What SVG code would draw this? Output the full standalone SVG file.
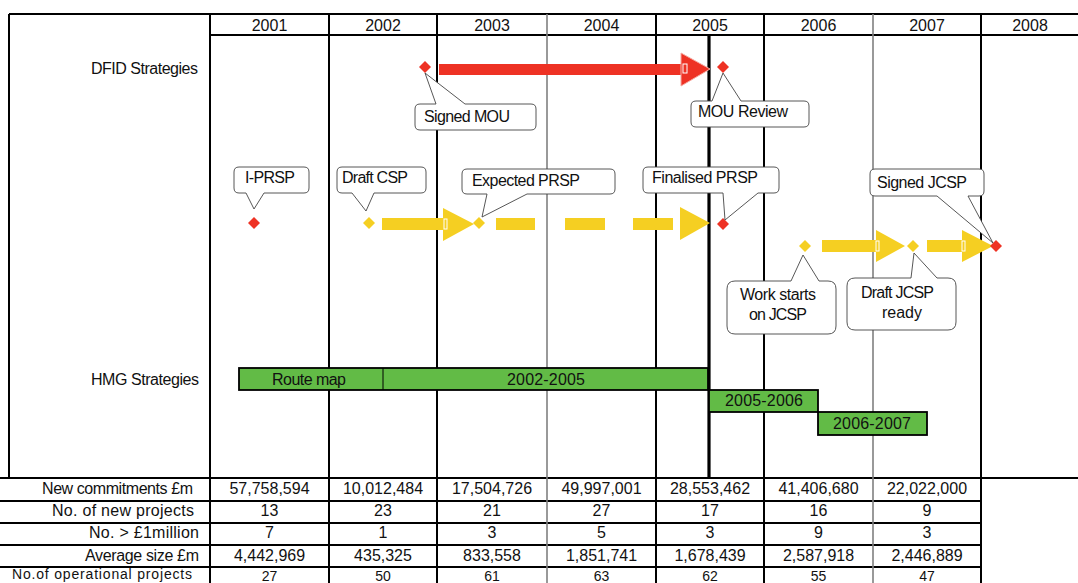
<svg xmlns="http://www.w3.org/2000/svg" width="1078" height="583" viewBox="0 0 1078 583">
<style>
text{font-family:"Liberation Sans",Arial,sans-serif;font-size:16px;fill:#111}
.c{text-anchor:middle}
.e{text-anchor:end}
.last{font-size:14px}
.bl{stroke:#000;stroke-width:2;fill:none}
.gr{stroke:#808080;stroke-width:1.6;fill:none}
.red{fill:#ee3224}
.yel{fill:#f5cf22}
.bar{fill:#62bb46;stroke:#000;stroke-width:1.8}
.co{fill:#fff;stroke:#444;stroke-width:0.9}
</style>
<rect width="1078" height="583" fill="#fff"/>
<g id="grid">
<path class="bl" d="M9,14H1078M210,35H1078M0,478H1078M0,501H981M0,523H981M0,545H981M0,567H981"/>
<path class="bl" d="M9,14V478M210,14V583M329,14V583M437,14V583M656,14V583M764,14V583M981,14V583"/>
<path class="gr" d="M547,14V583M873,14V583"/>
<path stroke="#000" stroke-width="3.2" d="M709,35V478"/>
</g>
<g id="years">
<text class="c" x="269.5" y="31">2001</text>
<text class="c" x="383" y="31">2002</text>
<text class="c" x="492" y="31">2003</text>
<text class="c" x="601.5" y="31">2004</text>
<text class="c" x="710" y="31">2005</text>
<text class="c" x="818.5" y="31">2006</text>
<text class="c" x="927" y="31">2007</text>
<text class="c" x="1030" y="31">2008</text>
</g>
<g id="rowlabels">
<text class="e" x="198" y="74" textLength="107">DFID Strategies</text>
<text class="e" x="199" y="385" textLength="108">HMG Strategies</text>
</g>
<g id="hmg-bars">
<g id="bar-2002-2005">
<rect class="bar" x="239" y="368" width="469" height="22"/>
<path stroke="#000" stroke-width="1" d="M383,368V390"/>
<text class="c" x="309" y="385" textLength="74">Route map</text>
<text class="c" x="546" y="385" textLength="78">2002-2005</text>
</g>
<g id="bar-2005-2006">
<rect class="bar" x="709" y="390" width="109" height="22"/>
<text class="c" x="764" y="406" textLength="78">2005-2006</text>
</g>
<g id="bar-2006-2007">
<rect class="bar" x="818" y="412" width="109" height="23"/>
<text class="c" x="872" y="429" textLength="78">2006-2007</text>
</g>
</g>
<g id="connectors">
<g id="mou-arrow">
<rect class="red" x="439" y="64" width="248" height="11"/>
<path class="red" d="M681,53L710,69L681,86Z" stroke="#f6a89f" stroke-width="1"/>
<rect x="683" y="64" width="4" height="9" fill="none" stroke="#fff" stroke-width="1"/>
</g>
<g id="csp-arrow">
<rect class="yel" x="382" y="218" width="66" height="12"/>
<path class="yel" d="M443,208L474,224L443,241Z"/>
<rect x="444" y="219" width="3" height="10" fill="none" stroke="#fff" stroke-width="1"/>
</g>
<g id="prsp-dashed-arrow">
<rect class="yel" x="496" y="218" width="39" height="12"/>
<rect class="yel" x="565" y="218" width="40" height="12"/>
<rect class="yel" x="633" y="218" width="40" height="12"/>
<path class="yel" d="M680,207L710,223L680,240Z"/>
</g>
<g id="jcsp-arrow-1">
<rect class="yel" x="822" y="240" width="58" height="12"/>
<path class="yel" d="M876,230L905,246L876,262Z"/>
<rect x="876" y="241" width="3" height="10" fill="none" stroke="#fff" stroke-width="1"/>
</g>
<g id="jcsp-arrow-2">
<rect class="yel" x="927" y="240" width="40" height="12"/>
<path class="yel" d="M962,230L993,246L962,262Z"/>
<rect x="962" y="241" width="3" height="10" fill="none" stroke="#fff" stroke-width="1"/>
</g>
</g>
<g id="milestones">
<path id="d-signed-mou" class="red" d="M425,61l6,6l-6,6l-6,-6Z"/>
<path id="d-mou-review" class="red" d="M723,61l6,6l-6,6l-6,-6Z"/>
<path id="d-iprsp" class="red" d="M254,217l6,6l-6,6l-6,-6Z"/>
<path id="d-draftcsp" class="yel" d="M369,217l6,6l-6,6l-6,-6Z"/>
<path id="d-expected" class="yel" d="M479,217l6,6l-6,6l-6,-6Z"/>
<path id="d-finalised" class="red" d="M723,218l6,6l-6,6l-6,-6Z"/>
<path id="d-workstarts" class="yel" d="M805,240l6,6l-6,6l-6,-6Z"/>
<path id="d-draftjcsp" class="yel" d="M913,240l6,6l-6,6l-6,-6Z"/>
<path id="d-signedjcsp" class="red" d="M996,240l6,6l-6,6l-6,-6Z"/>
</g>
<g id="callout-signed-mou">
<path class="co" d="M436,104L425,73L465,104L531,104Q536,104 536,109L536,125Q536,130 531,130L420,130Q415,130 415,125L415,109Q415,104 420,104Z"/>
<text x="424" y="122" textLength="86">Signed MOU</text>
</g>
<g id="callout-mou-review">
<path class="co" d="M712,101L723,73L741,101L804,101Q809,101 809,106L809,122Q809,127 804,127L696,127Q691,127 691,122L691,106Q691,101 696,101Z"/>
<text x="698" y="117" textLength="90">MOU Review</text>
</g>
<g id="callout-iprsp">
<path class="co" d="M264,193L254,209L246,193L239,193Q234,193 234,188L234,172Q234,167 239,167L304,167Q309,167 309,172L309,188Q309,193 304,193Z"/>
<text x="245" y="183" textLength="50">I-PRSP</text>
</g>
<g id="callout-draftcsp">
<path class="co" d="M374,193L366,211L352,193L342,193Q337,193 337,188L337,172Q337,167 342,167L421,167Q426,167 426,172L426,188Q426,193 421,193Z"/>
<text x="342" y="183" textLength="66">Draft CSP</text>
</g>
<g id="callout-expected-prsp">
<path class="co" d="M527,194L482,217L487,194L467,194Q462,194 462,189L462,174Q462,169 467,169L610,169Q615,169 615,174L615,189Q615,194 610,194Z"/>
<text x="472" y="186" textLength="108">Expected PRSP</text>
</g>
<g id="callout-finalised-prsp">
<path class="co" d="M758,193L725,220L723,193L648,193Q643,193 643,188L643,172Q643,167 648,167L774,167Q779,167 779,172L779,188Q779,193 774,193Z"/>
<text x="652" y="183" textLength="106">Finalised PRSP</text>
</g>
<g id="callout-signed-jcsp">
<path class="co" d="M968,196L993,243L937,196L875,196Q870,196 870,191L870,174Q870,169 875,169L979,169Q984,169 984,174L984,191Q984,196 979,196Z"/>
<text x="877" y="188" textLength="90">Signed JCSP</text>
</g>
<g id="callout-work-starts">
<path class="co" d="M791,281L803,255L819,281L828,281Q836,281 836,289L836,326Q836,334 828,334L735,334Q727,334 727,326L727,289Q727,281 735,281Z"/>
<text x="740" y="300" textLength="76">Work starts</text>
<text x="749" y="320" textLength="58">on JCSP</text>
</g>
<g id="callout-draft-jcsp">
<path class="co" d="M911,278L914,253L937,278L948,278Q956,278 956,286L956,322Q956,330 948,330L855,330Q847,330 847,322L847,286Q847,278 855,278Z"/>
<text x="861" y="298" textLength="73">Draft JCSP</text>
<text x="882" y="318" textLength="40">ready</text>
</g>
<g id="table">
<text class="e" x="193" y="494" textLength="151">New commitments £m</text>
<text class="e" x="194" y="516" textLength="142">No. of new projects</text>
<text class="e" x="199" y="538" textLength="110">No. &gt; £1million</text>
<text class="e" x="199" y="561" textLength="114">Average size £m</text>
<text class="e last" x="192" y="579" textLength="180">No.of operational projects</text>
<text class="c" x="269.5" y="494">57,758,594</text><text class="c" x="383" y="494">10,012,484</text><text class="c" x="492" y="494">17,504,726</text><text class="c" x="601.5" y="494">49,997,001</text><text class="c" x="710" y="494">28,553,462</text><text class="c" x="818.5" y="494">41,406,680</text><text class="c" x="927" y="494">22,022,000</text>
<text class="c" x="269.5" y="516">13</text><text class="c" x="383" y="516">23</text><text class="c" x="492" y="516">21</text><text class="c" x="601.5" y="516">27</text><text class="c" x="710" y="516">17</text><text class="c" x="818.5" y="516">16</text><text class="c" x="927" y="516">9</text>
<text class="c" x="269.5" y="538">7</text><text class="c" x="383" y="538">1</text><text class="c" x="492" y="538">3</text><text class="c" x="601.5" y="538">5</text><text class="c" x="710" y="538">3</text><text class="c" x="818.5" y="538">9</text><text class="c" x="927" y="538">3</text>
<text class="c" x="269.5" y="561">4,442,969</text><text class="c" x="383" y="561">435,325</text><text class="c" x="492" y="561">833,558</text><text class="c" x="601.5" y="561">1,851,741</text><text class="c" x="710" y="561">1,678,439</text><text class="c" x="818.5" y="561">2,587,918</text><text class="c" x="927" y="561">2,446,889</text>
<text class="c last" x="269.5" y="581">27</text><text class="c last" x="383" y="581">50</text><text class="c last" x="492" y="581">61</text><text class="c last" x="601.5" y="581">63</text><text class="c last" x="710" y="581">62</text><text class="c last" x="818.5" y="581">55</text><text class="c last" x="927" y="581">47</text>
</g>
</svg>
